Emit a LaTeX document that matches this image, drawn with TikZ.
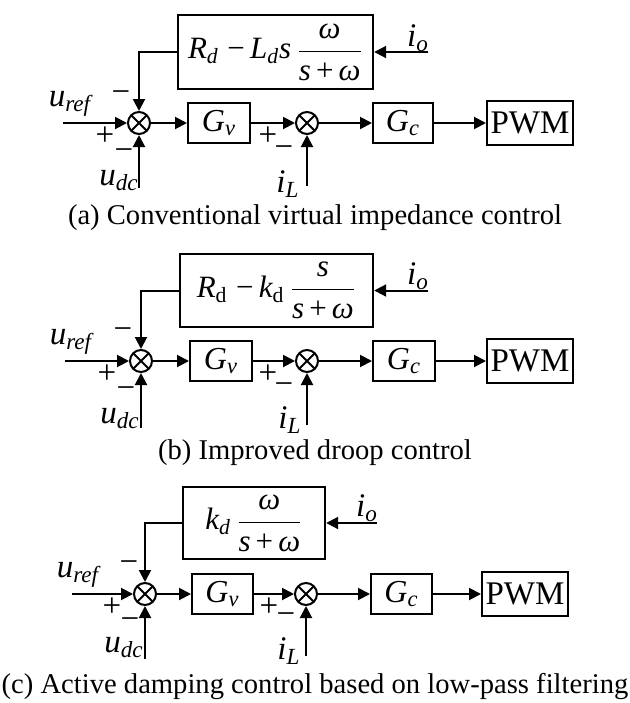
\documentclass[tikz,border=0pt]{standalone}
\usepackage{fix-cm}
\usepackage{amsmath}
\usepackage{fontspec}
\setmainfont{Liberation Serif}
\usetikzlibrary{arrows.meta}
\newcommand{\lblfont}{\fontsize{16.5}{18}\selectfont}
\newcommand{\boxfont}{\fontsize{16}{18}\selectfont}
\newcommand{\topfont}{\fontsize{15.5}{18}\selectfont}
\newcommand{\capfnt}{\fontsize{14.3}{17}\selectfont}
\newcommand{\pwmfnt}{\fontsize{16.5}{19}\selectfont}
\newcommand{\ti}[1]{\textit{#1}}
\newcommand{\mminus}{\;\text{−}\,}
\begin{document}
\begin{tikzpicture}[x=0.5pt,y=-0.5pt,
  blk/.style={draw, line width=1pt, inner sep=0pt, font=\boxfont},
  topblk/.style={draw, line width=1.2pt, inner sep=0pt, font=\topfont},
  sumj/.style={circle, draw, line width=1pt, minimum size=11pt, inner sep=0pt,
    path picture={\draw[line width=0.9pt] (path picture bounding box.north west) -- (path picture bounding box.south east)
      (path picture bounding box.north east) -- (path picture bounding box.south west);}},
  arr/.style={line width=1pt, -{Triangle[length=6pt,width=6pt]}},
  lab/.style={inner sep=0pt, font=\lblfont},
  capt/.style={inner sep=0pt, font=\capfnt}]
\useasboundingbox (0,0) rectangle (630,703);

% ---------------- (a) ----------------
\node[topblk, minimum width=97.5pt, minimum height=37pt] (ta) at (275.5,52)
  {$\ti{R}_{\ti{d}}\mminus\ti{L}_{\ti{d}}\ti{s}\,\dfrac{\ti{ω}}{\ti{s}\,\text{+}\,\ti{ω}}$};
\node[sumj] (s1a) at (139,123) {};
\node[blk, minimum width=31pt, minimum height=20pt] (gva) at (219,123) {$\ti{G}_{\ti{v}}$};
\node[sumj] (s2a) at (307,123) {};
\node[blk, minimum width=30pt, minimum height=20pt] (gca) at (403,123) {$\ti{G}_{\ti{c}}$};
\node[blk, minimum width=43pt, minimum height=22pt, font=\pwmfnt] (pwma) at (530,123) {PWM};
\coordinate (ina) at (63,123);
\coordinate (ioa) at (428,52);
\coordinate (uda) at (139,188);
\coordinate (ila) at (307,186);
\draw[arr] (ina) -- (s1a);
\draw[arr] (s1a) -- (gva);
\draw[arr] (gva) -- (s2a);
\draw[arr] (s2a) -- (gca);
\draw[arr] (gca) -- (pwma);
\draw[arr] (ioa) -- (ta.east);
\draw[arr] (ta.west) -| (s1a.north);
\draw[arr] (uda) -- (s1a.south);
\draw[arr] (ila) -- (s2a.south);
\node[lab] (ura) at (70,104) {$\ti{u}_{\ti{ref}}$};
\node[lab] (m1a) at (121,97) {−};
\node[lab] (p1a) at (105,136) {+};
\node[lab] (m2a) at (124,155) {−};
\node[lab] (p2a) at (268,136) {+};
\node[lab] (m3a) at (284,152) {−};
\node[lab] (ioal) at (418,38) {$\ti{i}_{\ti{o}}$};
\node[lab] (udal) at (119,181) {$\ti{u}_{\ti{dc}}$};
\node[lab] (ilal) at (288,184) {$\ti{i}_{\ti{L}}$};
\node[capt] (capa) at (315,218) {(a) Conventional virtual impedance control};

% ---------------- (b) ----------------
\node[topblk, minimum width=96.5pt, minimum height=36.5pt] (tb) at (276.5,290.5)
  {$\ti{R}_{\text{d}}\mminus\ti{k}_{\text{d}}\,\dfrac{\ti{s}}{\ti{s}\,\text{+}\,\ti{ω}}$};
\node[sumj] (s1b) at (141,361) {};
\node[blk, minimum width=31pt, minimum height=20pt] (gvb) at (221,361) {$\ti{G}_{\ti{v}}$};
\node[sumj] (s2b) at (307,361) {};
\node[blk, minimum width=31pt, minimum height=20pt] (gcb) at (404,361) {$\ti{G}_{\ti{c}}$};
\node[blk, minimum width=43pt, minimum height=22pt, font=\pwmfnt] (pwmb) at (530,361) {PWM};
\coordinate (inb) at (65,361);
\coordinate (iob) at (428,290.5);
\coordinate (udb) at (141,428);
\coordinate (ilb) at (307,425);
\draw[arr] (inb) -- (s1b);
\draw[arr] (s1b) -- (gvb);
\draw[arr] (gvb) -- (s2b);
\draw[arr] (s2b) -- (gcb);
\draw[arr] (gcb) -- (pwmb);
\draw[arr] (iob) -- (tb.east);
\draw[arr] (tb.west) -| (s1b.north);
\draw[arr] (udb) -- (s1b.south);
\draw[arr] (ilb) -- (s2b.south);
\node[lab] (urb) at (71,342) {$\ti{u}_{\ti{ref}}$};
\node[lab] (m1b) at (123,334) {−};
\node[lab] (p1b) at (107,374) {+};
\node[lab] (m2b) at (126,393) {−};
\node[lab] (p2b) at (268,374) {+};
\node[lab] (m3b) at (284,389) {−};
\node[lab] (iobl) at (418,276) {$\ti{i}_{\ti{o}}$};
\node[lab] (udbl) at (120,419) {$\ti{u}_{\ti{dc}}$};
\node[lab] (ilbl) at (290,420) {$\ti{i}_{\ti{L}}$};
\node[capt] (capb) at (315,453) {(b) Improved droop control};

% ---------------- (c) ----------------
\node[topblk, minimum width=71pt, minimum height=36pt] (tc) at (254,523)
  {$\ti{k}_{\ti{d}}\,\dfrac{\ti{ω}}{\ti{s}\,\text{+}\,\ti{ω}}$};
\node[sumj] (s1c) at (145,594) {};
\node[blk, minimum width=30.5pt, minimum height=20pt] (gvc) at (222.5,594) {$\ti{G}_{\ti{v}}$};
\node[sumj] (s2c) at (306,594) {};
\node[blk, minimum width=30.5pt, minimum height=20pt] (gcc) at (401.5,594) {$\ti{G}_{\ti{c}}$};
\node[blk, minimum width=43pt, minimum height=22pt, font=\pwmfnt] (pwmc) at (525,594) {PWM};
\coordinate (inc) at (72,594);
\coordinate (ioc) at (377,523);
\coordinate (udc) at (145,659);
\coordinate (ilc) at (306,656);
\draw[arr] (inc) -- (s1c);
\draw[arr] (s1c) -- (gvc);
\draw[arr] (gvc) -- (s2c);
\draw[arr] (s2c) -- (gcc);
\draw[arr] (gcc) -- (pwmc);
\draw[arr] (ioc) -- (tc.east);
\draw[arr] (tc.west) -| (s1c.north);
\draw[arr] (udc) -- (s1c.south);
\draw[arr] (ilc) -- (s2c.south);
\node[lab] (urc) at (78,575) {$\ti{u}_{\ti{ref}}$};
\node[lab] (m1c) at (129,567) {−};
\node[lab] (p1c) at (112,607) {+};
\node[lab] (m2c) at (130,624) {−};
\node[lab] (p2c) at (269,607) {+};
\node[lab] (m3c) at (286,619) {−};
\node[lab] (iocl) at (367,508) {$\ti{i}_{\ti{o}}$};
\node[lab] (udcl) at (124,648) {$\ti{u}_{\ti{dc}}$};
\node[lab] (ilcl) at (289,651) {$\ti{i}_{\ti{L}}$};
\node[capt] (capc) at (315,687) {(c) Active damping control based on low-pass filtering};
\end{tikzpicture}
\end{document}
